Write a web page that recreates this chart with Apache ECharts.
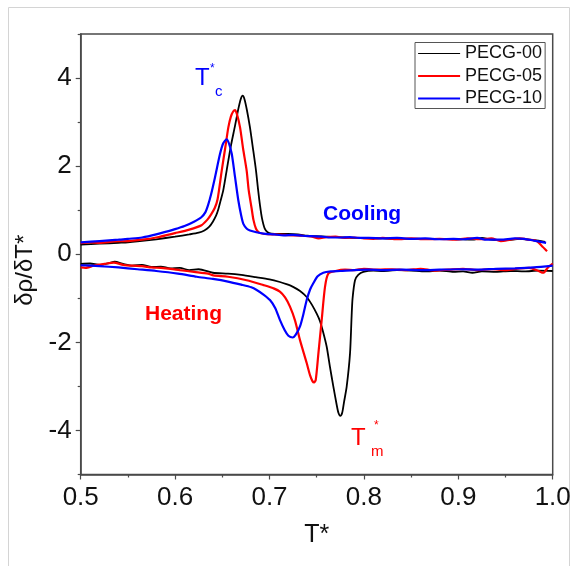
<!DOCTYPE html>
<html>
<head>
<meta charset="utf-8">
<script src="https://cdn.jsdelivr.net/npm/echarts@6/dist/echarts.min.js"></script>
<style>
html,body{margin:0;padding:0;background:#fff;}
#c{width:574px;height:566px;}
</style>
</head>
<body>
<div id="c"></div>
<script>
// ---- data ----
const seriesNames = ['PECG-00', 'PECG-05', 'PECG-10'];
const seriesColors = ['#000000', '#ff0000', '#0000ff'];
const xTicks = [0.5, 0.6, 0.7, 0.8, 0.9, 1.0];
const yTicks = [-4, -2, 0, 2, 4];
const yMinorTicks = [-5, -3, -1, 1, 3, 5];

const cool00 = [[0.500,0.22],[0.520,0.24],[0.540,0.26],[0.550,0.27],[0.560,0.29],[0.580,0.34],[0.600,0.40],[0.615,0.45],[0.625,0.49],[0.631,0.54],[0.636,0.62],[0.640,0.74],[0.6435,0.88],[0.6458,1.02],[0.648,1.20],[0.651,1.45],[0.6546,1.90],[0.659,2.45],[0.6635,2.92],[0.667,3.30],[0.6695,3.52],[0.6716,3.60],[0.6735,3.52],[0.676,3.28],[0.6793,2.88],[0.6825,2.40],[0.6857,1.90],[0.688,1.45],[0.690,1.10],[0.692,0.82],[0.695,0.58],[0.698,0.50],[0.702,0.47],[0.710,0.46],[0.720,0.46],[0.730,0.45],[0.740,0.42],[0.750,0.41],[0.760,0.40],[0.770,0.39],[0.780,0.38],[0.790,0.37],[0.800,0.37],[0.820,0.36],[0.840,0.35],[0.860,0.35],[0.880,0.35],[0.900,0.34],[0.915,0.33],[0.925,0.37],[0.935,0.33],[0.950,0.32],[0.965,0.35],[0.975,0.33],[0.985,0.31],[0.992,0.28]];
const cool05 = [[0.500,0.25],[0.510,0.27],[0.520,0.26],[0.535,0.29],[0.550,0.30],[0.565,0.33],[0.580,0.38],[0.600,0.48],[0.615,0.56],[0.628,0.66],[0.634,0.78],[0.638,0.90],[0.642,1.05],[0.645,1.25],[0.6494,1.90],[0.653,2.40],[0.6564,2.88],[0.659,3.12],[0.6615,3.24],[0.6635,3.27],[0.6655,3.18],[0.6688,2.88],[0.672,2.40],[0.6758,1.90],[0.678,1.45],[0.681,1.05],[0.683,0.78],[0.6857,0.58],[0.689,0.49],[0.695,0.46],[0.705,0.45],[0.715,0.44],[0.725,0.43],[0.735,0.42],[0.745,0.40],[0.752,0.36],[0.760,0.39],[0.770,0.40],[0.780,0.37],[0.790,0.38],[0.800,0.36],[0.810,0.35],[0.820,0.37],[0.835,0.34],[0.850,0.36],[0.865,0.34],[0.880,0.35],[0.895,0.33],[0.910,0.36],[0.925,0.34],[0.935,0.36],[0.945,0.30],[0.955,0.33],[0.965,0.36],[0.975,0.33],[0.983,0.30],[0.988,0.20],[0.994,0.07]];
const cool10 = [[0.500,0.27],[0.520,0.30],[0.540,0.33],[0.550,0.35],[0.565,0.38],[0.580,0.45],[0.600,0.57],[0.610,0.64],[0.620,0.74],[0.6278,0.84],[0.632,0.95],[0.635,1.12],[0.638,1.35],[0.6423,1.75],[0.6476,2.28],[0.651,2.52],[0.6546,2.61],[0.657,2.52],[0.660,2.28],[0.6635,1.75],[0.667,1.22],[0.670,0.88],[0.6723,0.69],[0.676,0.58],[0.6793,0.54],[0.686,0.50],[0.6935,0.47],[0.705,0.45],[0.715,0.43],[0.725,0.44],[0.735,0.42],[0.745,0.41],[0.755,0.40],[0.765,0.38],[0.775,0.38],[0.785,0.39],[0.795,0.37],[0.805,0.37],[0.820,0.36],[0.835,0.37],[0.850,0.35],[0.865,0.36],[0.880,0.34],[0.895,0.35],[0.905,0.34],[0.920,0.37],[0.930,0.33],[0.945,0.33],[0.960,0.36],[0.970,0.35],[0.980,0.31],[0.993,0.26]];

const heat00 = [[0.500,-0.22],[0.510,-0.21],[0.520,-0.24],[0.530,-0.20],[0.536,-0.17],[0.545,-0.22],[0.555,-0.26],[0.565,-0.24],[0.575,-0.29],[0.585,-0.28],[0.595,-0.32],[0.605,-0.31],[0.615,-0.36],[0.625,-0.34],[0.640,-0.42],[0.656,-0.44],[0.670,-0.47],[0.6855,-0.52],[0.700,-0.57],[0.711,-0.63],[0.718,-0.68],[0.725,-0.74],[0.732,-0.83],[0.7394,-0.97],[0.745,-1.15],[0.750,-1.35],[0.7535,-1.52],[0.757,-1.78],[0.7606,-2.10],[0.764,-2.55],[0.7676,-3.00],[0.771,-3.40],[0.773,-3.60],[0.775,-3.67],[0.777,-3.60],[0.779,-3.35],[0.7818,-3.00],[0.7853,-2.25],[0.787,-1.40],[0.788,-1.00],[0.7906,-0.59],[0.794,-0.47],[0.7994,-0.40],[0.810,-0.37],[0.820,-0.38],[0.835,-0.36],[0.850,-0.37],[0.865,-0.39],[0.880,-0.37],[0.895,-0.40],[0.905,-0.39],[0.915,-0.42],[0.925,-0.39],[0.940,-0.40],[0.955,-0.38],[0.970,-0.39],[0.985,-0.37],[1.000,-0.38]];
const heat05 = [[0.500,-0.30],[0.505,-0.31],[0.515,-0.25],[0.525,-0.22],[0.535,-0.19],[0.545,-0.24],[0.555,-0.26],[0.565,-0.27],[0.575,-0.30],[0.585,-0.31],[0.595,-0.33],[0.605,-0.36],[0.620,-0.40],[0.635,-0.44],[0.6405,-0.48],[0.656,-0.51],[0.6758,-0.59],[0.6935,-0.70],[0.705,-0.78],[0.711,-0.85],[0.7165,-0.98],[0.7217,-1.19],[0.727,-1.50],[0.7323,-1.95],[0.7394,-2.47],[0.743,-2.75],[0.7455,-2.88],[0.7472,-2.91],[0.749,-2.85],[0.7518,-2.25],[0.7553,-1.49],[0.7588,-0.74],[0.7623,-0.44],[0.770,-0.38],[0.780,-0.35],[0.790,-0.36],[0.800,-0.33],[0.815,-0.35],[0.830,-0.34],[0.845,-0.36],[0.860,-0.33],[0.875,-0.37],[0.890,-0.35],[0.905,-0.33],[0.920,-0.36],[0.935,-0.34],[0.950,-0.36],[0.965,-0.32],[0.975,-0.31],[0.985,-0.38],[0.990,-0.42],[0.995,-0.30],[1.000,-0.21]];
const heat10 = [[0.500,-0.25],[0.520,-0.27],[0.540,-0.30],[0.560,-0.34],[0.580,-0.38],[0.603,-0.44],[0.623,-0.51],[0.640,-0.56],[0.656,-0.62],[0.670,-0.69],[0.6807,-0.75],[0.6864,-0.81],[0.694,-0.92],[0.7005,-1.04],[0.706,-1.22],[0.711,-1.49],[0.716,-1.72],[0.720,-1.85],[0.7246,-1.89],[0.728,-1.82],[0.7323,-1.64],[0.736,-1.35],[0.7394,-1.04],[0.743,-0.80],[0.7464,-0.66],[0.751,-0.50],[0.757,-0.42],[0.765,-0.39],[0.775,-0.38],[0.790,-0.36],[0.805,-0.35],[0.820,-0.36],[0.840,-0.35],[0.860,-0.36],[0.880,-0.35],[0.900,-0.34],[0.920,-0.35],[0.940,-0.33],[0.960,-0.32],[0.980,-0.30],[1.000,-0.26]];

const coolingData = [cool00, cool05, cool10];
const heatingData = [heat00, heat05, heat10];
const lineWidths = [1.8, 2.2, 2.2];

// ---- chart ----
const chart = echarts.init(document.getElementById('c'), null, {renderer: 'canvas'});
const FONT = 'Arial, "Liberation Sans", sans-serif';
const axisColor = '#4a4a4a';

const series = [];
for (let i = 0; i < seriesNames.length; i++) {
  [coolingData[i], heatingData[i]].forEach(function (d) {
    series.push({
      name: seriesNames[i],
      type: 'line',
      data: d,
      showSymbol: false,
      symbol: 'none',
      smooth: 0.25,
      color: seriesColors[i],
      lineStyle: {color: seriesColors[i], width: lineWidths[i]},
      z: 2 + i,
      animation: false
    });
  });
}

const option = {
  animation: false,
  backgroundColor: '#ffffff',
  grid: {
    left: 80.7, right: 21.3, top: 34, bottom: 91.5,
    show: true, borderColor: axisColor, borderWidth: 1.5, backgroundColor: 'transparent'
  },
  legend: {
    data: seriesNames.map(function (n, i) {
      return {name: n, lineStyle: {width: i === 0 ? 1.2 : 2.2}};
    }),
    orient: 'vertical',
    left: 415, top: 42.5,
    itemWidth: 42, itemHeight: 18, itemGap: 4.5,
    padding: [2, 3, 1, 2],
    borderColor: '#555', borderWidth: 1,
    backgroundColor: '#fff',
    itemStyle: {opacity: 0},
    textStyle: {fontFamily: FONT, fontSize: 18, color: '#111'}
  },
  xAxis: {
    type: 'value', min: 0.5, max: 1.0, interval: 0.1,
    name: 'T*', nameLocation: 'middle', nameGap: 48,
    nameTextStyle: {fontFamily: FONT, fontSize: 25, color: '#111'},
    axisLine: {show: true, onZero: false, lineStyle: {color: axisColor, width: 1.5}},
    axisTick: {show: true, inside: false, length: 5, lineStyle: {color: axisColor, width: 1.2}},
    minorTick: {show: true, splitNumber: 2, length: 3, lineStyle: {color: axisColor, width: 1.2}},
    splitLine: {show: false},
    axisLabel: {fontFamily: FONT, fontSize: 26, color: '#111', margin: 10,
      formatter: function (v) { return v.toFixed(1); }}
  },
  yAxis: [{
    type: 'value', min: -5, max: 5,
    name: 'δρ/δT*', nameLocation: 'middle', nameGap: 40, nameRotate: 90,
    nameTextStyle: {fontFamily: FONT, fontSize: 24, color: '#111', padding: [0, 32, 0, 0]},
    axisLine: {show: true, onZero: false, lineStyle: {color: axisColor, width: 1.5}},
    axisTick: {show: true, inside: false, length: 5, customValues: yTicks, lineStyle: {color: axisColor, width: 1.2}},
    splitLine: {show: false},
    axisLabel: {fontFamily: FONT, fontSize: 26, color: '#111', margin: 9, customValues: yTicks}
  }, {
    type: 'value', min: -5, max: 5, position: 'left',
    axisLine: {show: false},
    axisTick: {show: true, inside: false, length: 3, customValues: yMinorTicks, lineStyle: {color: axisColor, width: 1.2}},
    axisLabel: {show: false},
    splitLine: {show: false}
  }],
  series: series,
  graphic: [
    {type: 'rect', shape: {x: 8.5, y: 7.5, width: 561, height: 580}, style: {fill: 'none', stroke: '#d4d4d4', lineWidth: 1}, silent: true, z: -10},
    {type: 'text', x: 195, y: 66, style: {text: 'T', fill: '#0000ff', font: '24px ' + FONT}},
    {type: 'text', x: 210, y: 63, style: {text: '*', fill: '#0000ff', font: '12px ' + FONT}},
    {type: 'text', x: 215, y: 84, style: {text: 'c', fill: '#0000ff', font: '15px ' + FONT}},
    {type: 'text', x: 323, y: 204, style: {text: 'Cooling', fill: '#0000ff', font: 'bold 21px ' + FONT}},
    {type: 'text', x: 145, y: 304, style: {text: 'Heating', fill: '#ff0000', font: 'bold 21px ' + FONT}},
    {type: 'text', x: 351, y: 426, style: {text: 'T', fill: '#ff0000', font: '24px ' + FONT}},
    {type: 'text', x: 374, y: 420, style: {text: '*', fill: '#ff0000', font: '12px ' + FONT}},
    {type: 'text', x: 371, y: 444, style: {text: 'm', fill: '#ff0000', font: '15px ' + FONT}}
  ]
};
chart.setOption(option);
</script>
</body>
</html>
